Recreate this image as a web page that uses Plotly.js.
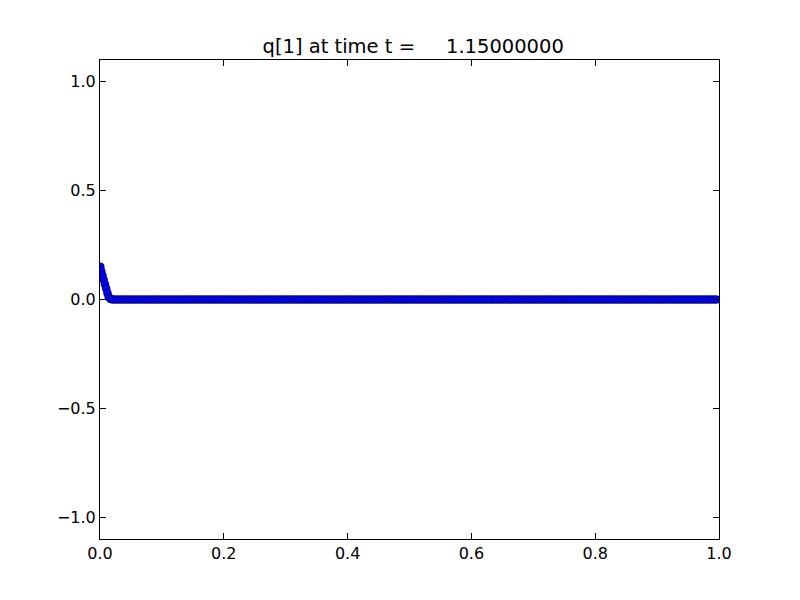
<!DOCTYPE html>
<html>
<head>
<meta charset="utf-8">
<script src="https://cdn.plot.ly/plotly-3.0.1.min.js"></script>
<style>html,body{margin:0;padding:0;background:#fff;}#chart{width:800px;height:600px;}</style>
</head>
<body>
<div id="chart"></div>
<script>
// Points near the left boundary
const leadingX = [0.0005, 0.002, 0.004, 0.006, 0.008, 0.010, 0.012, 0.014, 0.017];
const leadingQ = [0.15, 0.13, 0.11, 0.09, 0.07, 0.05, 0.03, 0.012, 0.003];
// Remaining cells: uniform spacing, value zero
const flatStart = 0.0205;
const flatDx = 0.005;
const flatValue = 0.0;
const titleText = "q[1] at time t =\u00a0\u00a0\u00a0\u00a0\u00a01.15000000";
const xTickVals = [0.0, 0.2, 0.4, 0.6, 0.8, 1.0];
const yTickVals = [-1.0, -0.5, 0.0, 0.5, 1.0];

const xs = leadingX.slice();
const qs = leadingQ.slice();
for (let k = 0; flatStart + k * flatDx < 1.0; k++) {
  xs.push(flatStart + k * flatDx);
  qs.push(flatValue);
}

const trace = {
  x: xs, y: qs, type: 'scatter', mode: 'markers',
  marker: {color: '#0000ff', size: 8, line: {color: '#000000', width: 0.5}},
  hoverinfo: 'skip', showlegend: false
};

const axisCommon = {
  showgrid: false, zeroline: false, showline: true, linecolor: '#000', linewidth: 1,
  mirror: 'ticks', ticks: 'inside', ticklen: 6, tickwidth: 1, tickcolor: '#000',
  tickfont: {family: 'DejaVu Sans', size: 16, color: '#000'}
};

const layout = {
  width: 800, height: 600,
  paper_bgcolor: '#fff', plot_bgcolor: '#fff',
  margin: {l: 100, r: 81, t: 60, b: 61},
  title: {text: titleText, font: {family: 'DejaVu Sans', size: 19.5, color: '#000'},
          x: 0.5165, xanchor: 'center', yref: 'container', y: 1 - 46/600, yanchor: 'middle'},
  xaxis: Object.assign({}, axisCommon, {range: [0, 1], tickvals: xTickVals, tickformat: '.1f'}),
  yaxis: Object.assign({}, axisCommon, {range: [-1.1, 1.1], tickvals: yTickVals, tickformat: '.1f'}),
  font: {family: 'DejaVu Sans'}
};

Plotly.newPlot('chart', [trace], layout, {displayModeBar: false, staticPlot: true});
</script>
</body>
</html>
